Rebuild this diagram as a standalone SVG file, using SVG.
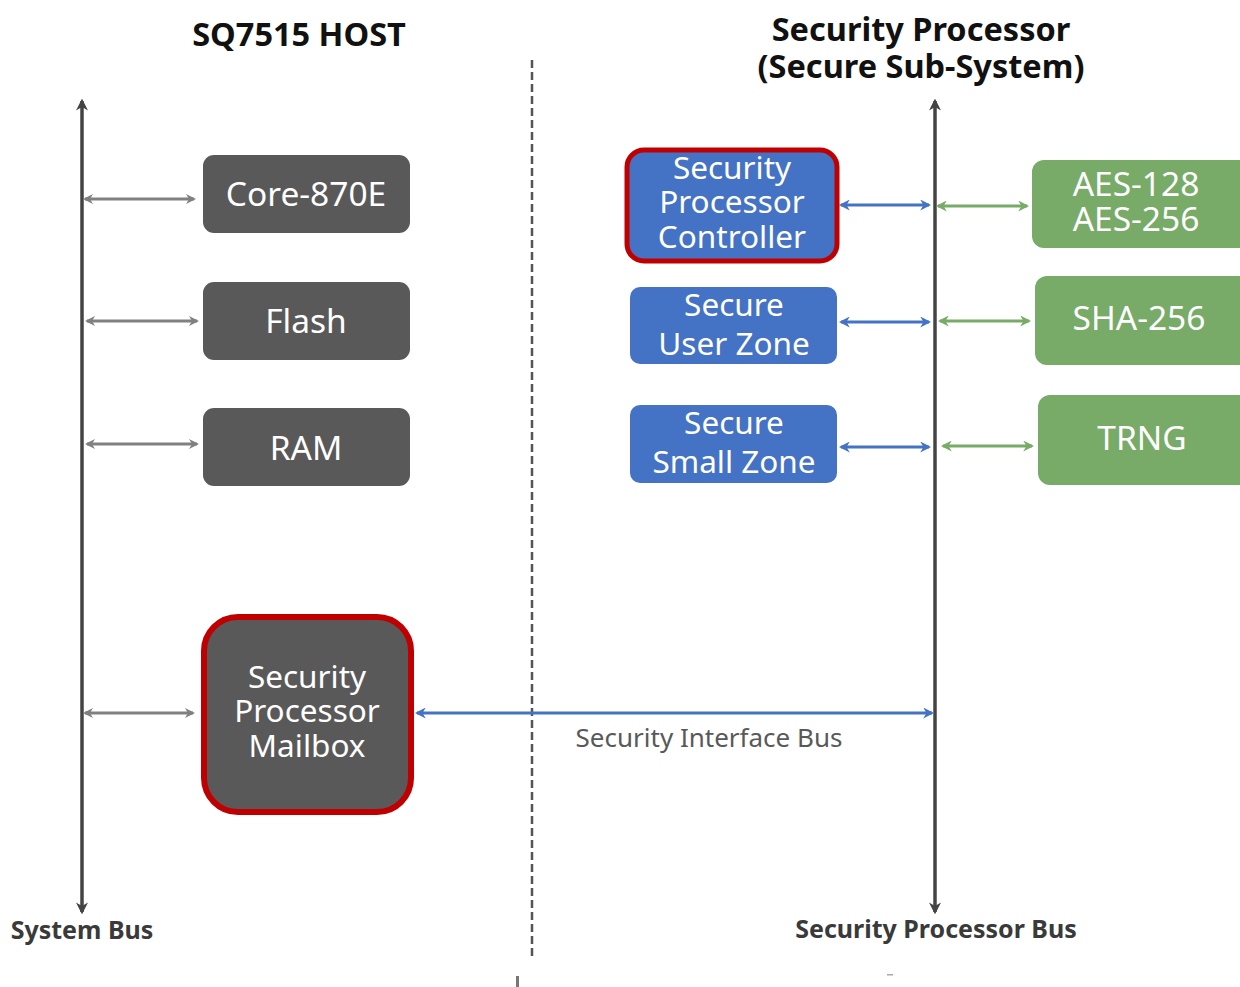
<svg xmlns="http://www.w3.org/2000/svg" width="1240" height="987" viewBox="0 0 1240 987">
<style>
text{font-family:"Noto Sans","Open Sans","Liberation Sans",sans-serif}
.title{font-weight:bold;font-size:32.5px;fill:#111;text-anchor:middle}
.bus{font-weight:bold;font-size:25px;fill:#3a3a3a;text-anchor:middle}
.lbl{font-size:31.5px;fill:#fff;text-anchor:middle}
.big{font-size:33.5px}
.gbox{fill:#595959}
.bbox{fill:#4472c4}
.grbox{fill:#77ab67}
.red{stroke:#c00000}
.ga{stroke:#808080;stroke-width:3;fill:none;marker-start:url(#ag);marker-end:url(#ag)}
.ba{stroke:#4472c4;stroke-width:3;fill:none;marker-start:url(#ab);marker-end:url(#ab)}
.gra{stroke:#77ab67;stroke-width:3;fill:none;marker-start:url(#agr);marker-end:url(#agr)}
.sbus{stroke:#444;stroke-width:3.5;fill:none;marker-start:url(#ak);marker-end:url(#ak)}
</style>
<defs>
<marker id="ag" viewBox="0 0 10 10" refX="8" refY="5" markerWidth="10" markerHeight="10" markerUnits="userSpaceOnUse" orient="auto-start-reverse"><path d="M0,0 L10,5 L0,10 L3,5 z" fill="#808080"/></marker>
<marker id="ab" viewBox="0 0 10 10" refX="8" refY="5" markerWidth="11" markerHeight="11" markerUnits="userSpaceOnUse" orient="auto-start-reverse"><path d="M0,0 L10,5 L0,10 L3,5 z" fill="#4472c4"/></marker>
<marker id="agr" viewBox="0 0 10 10" refX="8" refY="5" markerWidth="11" markerHeight="11" markerUnits="userSpaceOnUse" orient="auto-start-reverse"><path d="M0,0 L10,5 L0,10 L3,5 z" fill="#77ab67"/></marker>
<marker id="ak" viewBox="0 0 10 10" refX="8" refY="5" markerWidth="12" markerHeight="12" markerUnits="userSpaceOnUse" orient="auto-start-reverse"><path d="M0,0 L10,5 L0,10 L3,5 z" fill="#444"/></marker>
</defs>
<rect width="1240" height="987" fill="#fff"/>

<g id="titles">
<text class="title" x="299" y="46">SQ7515 HOST</text>
<text class="title" x="921" y="41">Security Processor</text>
<text class="title" x="921" y="78">(Secure Sub-System)</text>
</g>

<g id="connectors">
<line x1="532" y1="60" x2="532" y2="956" stroke="#555" stroke-width="2.5" stroke-dasharray="8,4"/>
<line class="sbus" x1="82" y1="912" x2="82" y2="101"/>
<line class="sbus" x1="935" y1="912" x2="935" y2="101"/>
<line class="ga" x1="85" y1="199" x2="194" y2="199"/>
<line class="ga" x1="87" y1="321" x2="197" y2="321"/>
<line class="ga" x1="87" y1="444" x2="197" y2="444"/>
<line class="ga" x1="85" y1="713" x2="193" y2="713"/>
<line class="ba" x1="841" y1="205" x2="929" y2="205"/>
<line class="ba" x1="841" y1="322" x2="929" y2="322"/>
<line class="ba" x1="841" y1="447" x2="929" y2="447"/>
<line class="gra" x1="938" y1="206" x2="1027" y2="206"/>
<line class="gra" x1="940" y1="321" x2="1029" y2="321"/>
<line class="gra" x1="943" y1="446" x2="1032" y2="446"/>
<line class="ba" x1="417" y1="713" x2="932" y2="713"/>
<text x="709" y="747" font-size="26" fill="#595959" text-anchor="middle">Security Interface Bus</text>
<rect x="516" y="976" width="3" height="11" fill="#777"/>
<rect x="887" y="974" width="6" height="1.5" fill="#aaa"/>
</g>

<g id="core">
<rect class="gbox" x="203" y="155" width="207" height="78" rx="11"/>
<text class="lbl big" x="306" y="206">Core-870E</text>
</g>
<g id="flash">
<rect class="gbox" x="203" y="282" width="207" height="78" rx="11"/>
<text class="lbl big" x="306" y="333">Flash</text>
</g>
<g id="ram">
<rect class="gbox" x="203" y="408" width="207" height="78" rx="11"/>
<text class="lbl big" x="306" y="460">RAM</text>
</g>
<g id="mailbox">
<rect class="gbox red" x="204" y="617" width="207" height="195" rx="34" stroke-width="6"/>
<text class="lbl" x="307" y="688">Security</text>
<text class="lbl" x="307" y="722">Processor</text>
<text class="lbl" x="307" y="757">Mailbox</text>
</g>

<g id="spc">
<rect class="bbox red" x="627" y="150" width="210" height="111" rx="17" stroke-width="5"/>
<text class="lbl" x="732" y="179">Security</text>
<text class="lbl" x="732" y="213">Processor</text>
<text class="lbl" x="732" y="248">Controller</text>
</g>
<g id="suz">
<rect class="bbox" x="630" y="287" width="207" height="77" rx="10"/>
<text class="lbl" x="734" y="316">Secure</text>
<text class="lbl" x="734" y="355">User Zone</text>
</g>
<g id="ssz">
<rect class="bbox" x="630" y="405" width="207" height="78" rx="10"/>
<text class="lbl" x="734" y="434">Secure</text>
<text class="lbl" x="734" y="473">Small Zone</text>
</g>

<g id="aes">
<rect class="grbox" x="1032" y="160" width="220" height="88" rx="12"/>
<text class="lbl big" x="1136" y="196">AES-128</text>
<text class="lbl big" x="1136" y="231">AES-256</text>
</g>
<g id="sha">
<rect class="grbox" x="1035" y="276" width="220" height="89" rx="12"/>
<text class="lbl big" x="1139" y="330">SHA-256</text>
</g>
<g id="trng">
<rect class="grbox" x="1038" y="395" width="220" height="90" rx="12"/>
<text class="lbl big" x="1142" y="450">TRNG</text>
</g>

<g id="buslabels">
<text class="bus" x="82" y="939">System Bus</text>
<text class="bus" x="936" y="938">Security Processor Bus</text>
</g>
</svg>
